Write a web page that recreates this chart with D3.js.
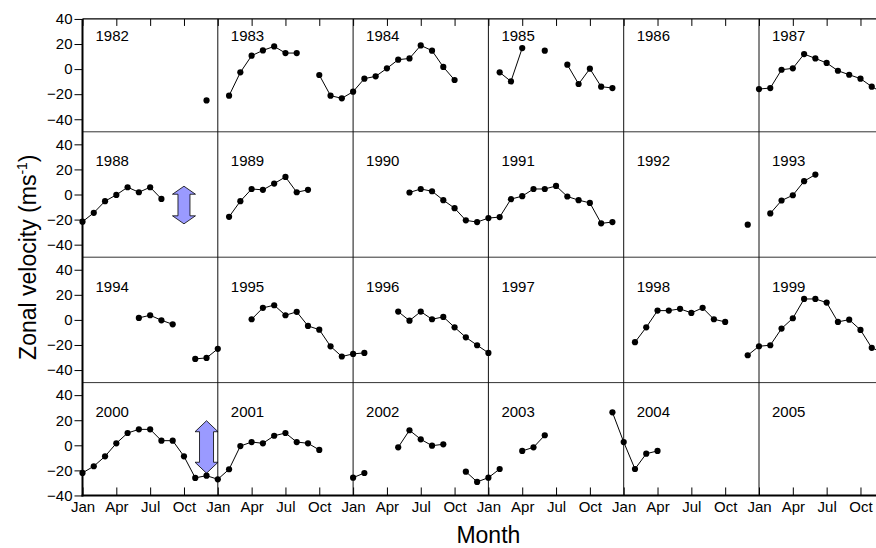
<!DOCTYPE html>
<html>
<head>
<meta charset="utf-8">
<script src="https://cdn.jsdelivr.net/npm/d3@7"></script>
<style>
  body { margin: 0; background: #fff; overflow: hidden; }
  svg { display: block; font-family: "Liberation Sans", Arial, sans-serif; }
</style>
</head>
<body>
<svg id="chart" width="876" height="548"></svg>
<script>
// Years shown, one panel each, six per row
var years = [1982, 1983, 1984, 1985, 1986, 1987,
             1988, 1989, 1990, 1991, 1992, 1993,
             1994, 1995, 1996, 1997, 1998, 1999,
             2000, 2001, 2002, 2003, 2004, 2005];
var monthLabels = ["Jan", "Apr", "Jul", "Oct"];
var yTicks = [-40, -20, 0, 20, 40];

// Monthly zonal velocity (m/s), Jan..Dec, null = no data
var n = null;
var velocity = [
  [n, n, n, n, n, n, n, n, n, n, n, -25],                                   // 1982
  [n, -21.2, -2.6, 10.7, 14.9, 18.1, 12.8, 12.8, n, -4.7, -21.2, -23.3],    // 1983
  [-18, -7.6, -5.8, 0.6, 7.5, 8.5, 18.9, 14.7, 1.7, -8.7, n, n],            // 1984
  [n, -2.6, -9.8, 16.8, n, 14.7, n, 3.5, -11.9, 0.3, -14, -15.1],           // 1985
  [n, n, n, n, n, n, n, n, n, n, n, n],                                     // 1986
  [-15.9, -15.1, -0.5, 0.6, 12, 8.5, 4.9, -1.3, -4.5, -7.6, -14, -19],      // 1987
  [-21.7, -14.6, -5.3, -0.3, 5.8, 1.8, 5.8, -3.5, n, n, n, n],              // 1988
  [n, -17.8, -5.3, 4.4, 3.7, 8.7, 14, 1.8, 3.7, n, n, n],                   // 1989
  [n, n, n, n, n, 1.6, 4.4, 2.6, -4.5, -10.9, -20.6, -22],                  // 1990
  [-18.8, -18, -3.7, -1.3, 4.4, 4.4, 6.8, -1.6, -4.5, -6.7, -23, -22],      // 1991
  [n, n, n, n, n, n, n, n, n, n, n, -24.1],                                 // 1992
  [n, -15.1, -4.8, -0.6, 10.6, 15.9, n, n, n, n, n, n],                     // 1993
  [n, n, n, n, n, 1.6, 3.7, -0.3, -3.5, n, -31.1, -30.3],                   // 1994
  [-23.1, n, n, 0.5, 9.6, 11.7, 3.7, 6.4, -4.8, -7.8, -21.1, -29.2],        // 1995
  [-27.1, -26.3, n, n, 6.6, -0.6, 6.6, 0.5, 2.4, -5.9, -13.9, -20.2],       // 1996
  [-26.3, n, n, n, n, n, n, n, n, n, n, n],                                 // 1997
  [n, -17.8, -5.9, 7.4, 7.4, 8.8, 5.6, 9.6, 0.5, -1.6, n, -28.2],           // 1998
  [-21, -20.2, -6.9, 1.3, 16.7, 16.7, 13.8, -1.6, 0.2, -8, -22.3, -26],     // 1999
  [-22, -16.7, -8.8, 1.6, 9.8, 12.7, 12.7, 3.7, 3.7, -8.8, -26, -24.2],     // 2000
  [-27.1, -19.1, -0.6, 2.6, 1.6, 7.6, 9.8, 2.6, 1.6, -3.7, n, n],           // 2001
  [-25.8, -22.1, n, n, -1.6, 12, 4.8, -0.3, 0.8, n, -21, -29.2],            // 2002
  [-25.8, -18.9, n, -4.5, -1.6, 8, n, n, n, n, n, 26.3],                    // 2003
  [2.6, -18.9, -6.7, -4.5, n, n, n, n, n, n, n, n],                         // 2004
  [n, n, n, n, n, n, n, n, n, n, n, n]                                      // 2005
];

// Double-headed arrows drawn on the chart
var arrowYear = [1988, 2000];
var arrowMonth = [9, 11];
var arrowTop = [6.6, 19.6];
var arrowBottom = [-23.4, -22.3];

// layout
var left = 82.5, monthW = 11.275;
var rowTop0 = 6.4, rowH = 125.4;
var perRow = 6, nRows = 4;
var arrowShape = [{head: 8, shaft: 6}, {head: 11, shaft: 7}];

var svg = d3.select("#chart");

var x = d3.scaleLinear().domain([0, perRow * 12]).range([left, left + perRow * 12 * monthW]);
function yRow(r) {
  return d3.scaleLinear().domain([-50, 50]).range([rowTop0 + (r + 1) * rowH, rowTop0 + r * rowH]);
}
var plotTop = yRow(0)(40);
var plotBottom = yRow(nRows - 1)(-40);
var plotRight = x(perRow * 12);
var quarterTicks = d3.range(0, perRow * 12 + 1, 3);

// row separators
for (var r = 0; r < nRows - 1; r++) {
  svg.append("line")
    .attr("x1", left).attr("x2", plotRight)
    .attr("y1", yRow(r)(-50)).attr("y2", yRow(r)(-50))
    .style("stroke", "#333").style("stroke-width", 1);
}

// panel separators (each January)
svg.selectAll(".vline")
  .data(d3.range(1, perRow))
  .enter().append("line")
  .attr("x1", d => x(d * 12)).attr("x2", d => x(d * 12))
  .attr("y1", plotTop).attr("y2", plotBottom)
  .style("stroke", "#111").style("stroke-width", 1);

// top frame with inner ticks
svg.append("line")
  .attr("x1", left).attr("x2", plotRight)
  .attr("y1", plotTop).attr("y2", plotTop)
  .style("stroke", "#000").style("stroke-width", 1.3);
var topAxis = svg.append("g")
  .attr("transform", "translate(0," + plotTop + ")")
  .call(d3.axisTop(x).tickValues(quarterTicks).tickSize(-7).tickFormat(""));
topAxis.select(".domain").remove();

// bottom axis with inner ticks and month labels (last Jan lies past the edge)
var bottomAxis = svg.append("g")
  .attr("transform", "translate(0," + plotBottom + ")")
  .call(d3.axisBottom(x)
    .tickValues(quarterTicks)
    .tickSize(-8).tickPadding(6)
    .tickFormat(d => d < perRow * 12 ? monthLabels[(d / 3) % 4] : ""));
bottomAxis.select(".domain").remove();
bottomAxis.selectAll("text").style("font-size", "15px").style("fill", "#000")
  .style("font-family", "'Liberation Sans', Arial, sans-serif");

// left axis per row
for (var r = 0; r < nRows; r++) {
  var g = svg.append("g")
    .attr("transform", "translate(" + left + ",0)")
    .call(d3.axisLeft(yRow(r)).tickValues(yTicks).tickSize(8).tickPadding(2));
  g.select(".domain").remove();
  g.selectAll("text").style("font-size", "15px").style("fill", "#000")
    .style("font-family", "'Liberation Sans', Arial, sans-serif");
}

// thick left and bottom axis lines
svg.append("line")
  .attr("x1", left).attr("x2", left).attr("y1", plotTop).attr("y2", plotBottom + 1)
  .style("stroke", "#000").style("stroke-width", 2);
svg.append("line")
  .attr("x1", left - 1).attr("x2", plotRight).attr("y1", plotBottom).attr("y2", plotBottom)
  .style("stroke", "#000").style("stroke-width", 2);

// year labels
years.forEach(function(yr, i) {
  var r = Math.floor(i / perRow), c = i % perRow;
  svg.append("text")
    .attr("x", x(c * 12) + 13)
    .attr("y", yRow(r)(22.5))
    .style("font-size", "15px")
    .text(yr);
});

// arrows
arrowYear.forEach(function(yr, k) {
  var i = years.indexOf(yr);
  var r = Math.floor(i / perRow), c = i % perRow;
  var y = yRow(r);
  var cx = x(c * 12 + arrowMonth[k]);
  var yt = y(arrowTop[k]), yb = y(arrowBottom[k]);
  var hw = 11.5, sw = arrowShape[k].shaft, hl = arrowShape[k].head;
  var p = d3.path();
  p.moveTo(cx, yt);
  p.lineTo(cx + hw, yt + hl); p.lineTo(cx + sw, yt + hl);
  p.lineTo(cx + sw, yb - hl); p.lineTo(cx + hw, yb - hl);
  p.lineTo(cx, yb);
  p.lineTo(cx - hw, yb - hl); p.lineTo(cx - sw, yb - hl);
  p.lineTo(cx - sw, yt + hl); p.lineTo(cx - hw, yt + hl);
  p.closePath();
  svg.append("path").attr("d", p.toString())
    .style("fill", "#9a9aff").style("stroke", "#000").style("stroke-width", 0.8);
});

// data: one continuous monthly series per row
for (var r = 0; r < nRows; r++) {
  var y = yRow(r);
  var pts = [];
  for (var c = 0; c < perRow; c++) {
    velocity[r * perRow + c].forEach(function(v, m) {
      pts.push({i: c * 12 + m, v: v});
    });
  }
  var line = d3.line()
    .defined(d => d.v !== null)
    .x(d => x(d.i))
    .y(d => y(d.v));
  svg.append("path").datum(pts)
    .attr("d", line)
    .style("fill", "none").style("stroke", "#000").style("stroke-width", 1);
  svg.append("g").selectAll("circle")
    .data(pts.filter(d => d.v !== null))
    .enter().append("circle")
    .attr("cx", d => x(d.i)).attr("cy", d => y(d.v))
    .attr("r", 3.1).style("fill", "#000");
}

// axis titles
var ylab = svg.append("text")
  .attr("transform", "translate(36," + ((plotTop + plotBottom) / 2) + ") rotate(-90)")
  .attr("text-anchor", "middle")
  .style("font-size", "23px");
ylab.append("tspan").text("Zonal velocity (ms");
ylab.append("tspan").attr("dy", -9).style("font-size", "14px").text("-1");
ylab.append("tspan").attr("dy", 9).text(")");

svg.append("text")
  .attr("x", (left + plotRight) / 2)
  .attr("y", 543)
  .attr("text-anchor", "middle")
  .style("font-size", "23px")
  .text("Month");
</script>
</body>
</html>
